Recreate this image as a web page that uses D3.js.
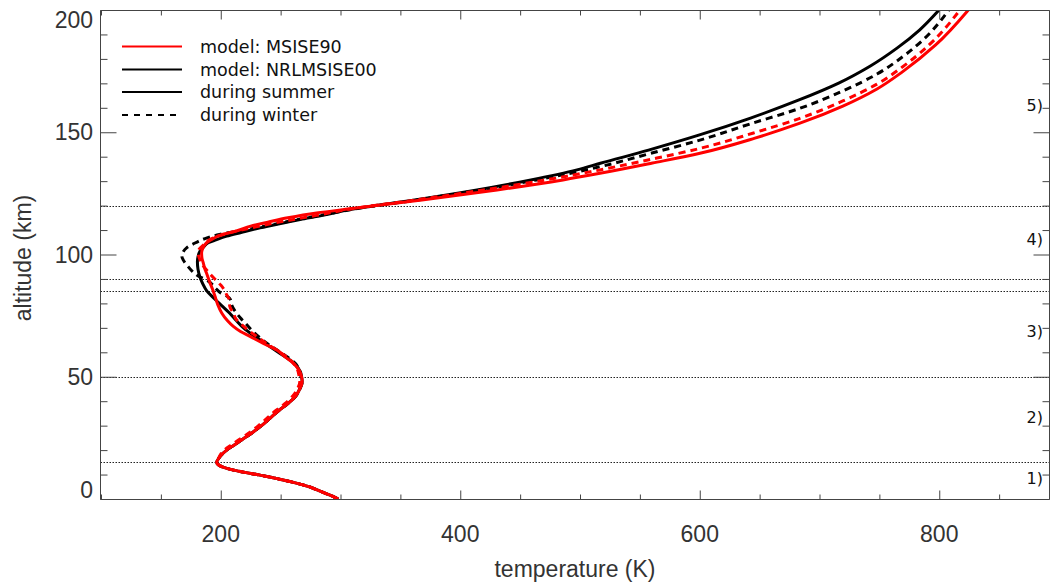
<!DOCTYPE html>
<html>
<head>
<meta charset="utf-8">
<script src="https://cdn.jsdelivr.net/npm/d3@7"></script>
<style>
  body { margin: 0; background: #fff; }
  svg { display: block; }
</style>
</head>
<body>
<div id="chart"></div>
<script>
// temperature profiles, [altitude km, temperature K]
const msise90Summer = [[0,298],[1,294],[2,289],[3,284],[4,279],[5,274],[6,267],[7,259],[8,250],[9,241],[10,230],[11,219],[12,209],[13,202],[14,198],[15,196.5],[16,197.5],[18,200.5],[20,205],[22,211],[24,217],[27,226],[30,234],[33,241],[36,248],[39,256],[42,262.5],[45,266],[48,268],[50,267.5],
  [52.2,266],[54,263.5],[55.6,260.6],[58,254],[61,246.7],[63.5,236],[66.5,224.4],[68.5,216.5],[70.6,210.5],[73,205.5],[76.1,200.8],[79.5,197.5],[82.9,195.2],[86,193],[88.4,191],[90.5,189.5],[92.5,188],[94.5,186.5],[96.6,185.4],[98.5,184.3],[100.7,184],[102.5,185],[104.8,188.2],[106.5,193.5],[108,200],[109.6,213],[111.6,225],[113.3,240],[115,256],[117,280],[118.7,308],
  [122.3,368],[126.4,430.7],[130.5,485.8],[133.2,516.7],[137.4,560.5],[141.4,600.2],[147.6,646.1],[153.7,683.7],[160.7,719.5],[167.7,748],[174.8,769.5],[185.7,797],[200,824.3]];

const msise90Winter = [[0,298],[1,294],[2,289],[3,284],[4,279],[5,274],[6,267],[7,259],[8,250],[9,241],[10,230],[11,219],[12,209],[13,202],[14,198],[15,196.5],[16,197.5],[18,199.5],[20,203],[22,208.5],[24,214.5],[27,223.5],[30,231.5],[33,238.5],[36,245.5],[39,253.5],[42,260],[45,264],[48,266],[50,265.5],
  [53,264],[57,257.8],[59.5,251],[61.8,243.9],[64,237],[66.5,230],[68.8,223.5],[71.3,217.5],[73.4,213],[76.1,210.5],[78.8,207.5],[81.6,207],[83.5,205],[85.5,203],[87.5,200],[89.5,196],[91.5,192],[93.5,188.5],[95.5,185],[97.5,183],[99.5,181.5],[101,181.2],[102.5,182.5],[104.3,186.5],[106,190.5],[107.5,198],[109,208],[110.5,222],[112,236],[114,257],[116,280],[118.6,308],
  [122.3,362.8],[126.4,419.6],[130.5,471.4],[134.6,516.7],[139.1,561],[143.4,600.2],[149.7,644.9],[155.7,683.7],[162.8,719.5],[169.7,748],[176.8,769.5],[185.7,791.5],[200,817.3]];

const nrlmsise00Summer = [[0,298],[1,294],[2,289],[3,284],[4,279],[5,274],[6,267],[7,259],[8,250],[9,241],[10,230],[11,219],[12,209],[13,202],[14,198],[15,196.5],[16,197.5],[18,200.5],[20,205],[22,211],[24,217],[27,226],[30,234],[33,241],[36,248],[39,256],[42,262.5],[45,266],[48,268],[50,267.5],
  [52,266.5],[55.6,261],[60,248],[64,236],[67,227],[70,219],[73,213],[76,207.5],[79,201],[82,194.5],[85,188.5],[88,185],[91,182.5],[94,181],[97,180.5],[99,181],[101.4,182.7],[103,185.5],[104.8,189.6],[106,196],[107.5,205],[109,217],[110.9,232.8],[112.5,248],[114.3,266.2],[116,285],[118.4,308],
  [122.3,362],[126.4,414],[130.5,459],[134.6,497.5],[137.3,517],[142.7,557.2],[148.9,599.8],[155.8,642.4],[163.2,682.9],[170.1,716],[177.1,742.5],[184.5,765],[191.8,783.5],[200,799.8]];

const nrlmsise00Winter = [[0,298],[1,294],[2,289],[3,284],[4,279],[5,274],[6,267],[7,259],[8,250],[9,241],[10,230],[11,219],[12,209],[13,202],[14,198],[15,196.5],[16,197.5],[18,200.5],[20,205],[22,211],[24,217],[27,226],[30,234],[33,241],[36,248],[39,256],[42,262.5],[45,266],[48,268],[50,267],
  [53,265.5],[55.6,262],[58.3,255],[61,246.7],[63.5,239],[65.9,232.8],[68.5,227],[71.3,221.7],[74,216.5],[76.1,213],[79.5,209],[81.6,208],[83,205],[84.3,200],[86,196],[87.7,193],[89.5,188.5],[91.1,181.5],[93,176.5],[95.2,172.5],[97.5,169],[99.3,167.5],[101,168.5],[102.7,171.5],[104.8,179],[106.8,188.5],[108.2,199],[110.2,222],[112,241],[114,261],[116,283],[118.5,310],
  [122.3,364.3],[126.4,416.9],[130.5,463.7],[135.9,516.7],[141.3,558.5],[146.8,600.2],[153.4,642],[159.8,683.7],[166.9,719.5],[173.8,748],[180.9,769.5],[188.5,788],[200,808]];

const layerBounds = [15, 50, 85, 90, 120];
const layerLabels = ["1)", "2)", "3)", "4)", "5)"];
const layerLabelAlt = [7.5, 32.5, 67.5, 105, 160];

const xMajor = [200, 400, 600, 800];
const yMajor = [0, 50, 100, 150, 200];

const legendLabels = ["model: MSISE90", "model: NRLMSISE00", "during summer", "during winter"];

const WIDTH = 1051, HEIGHT = 585;
const L = 100.5, R = 1049.5, T = 10.5, B = 499.5;

const svg = d3.select("#chart").append("svg")
  .attr("width", WIDTH)
  .attr("height", HEIGHT);

const x = d3.scaleLinear().domain([100, 900]).range([101, 1059]);
const y = d3.scaleLinear().domain([0, 200]).range([499, 10]);

svg.append("clipPath").attr("id", "plot")
  .append("rect").attr("x", L).attr("y", T).attr("width", R - L).attr("height", B - T);

// dotted layer boundaries
svg.append("g").selectAll("line")
  .data(layerBounds)
  .enter().append("line")
  .attr("x1", L).attr("x2", R)
  .attr("y1", d => Math.round(y(d)) + 0.5)
  .attr("y2", d => Math.round(y(d)) + 0.5)
  .attr("stroke", "#222")
  .attr("stroke-width", 1)
  .attr("stroke-dasharray", "1.5,1.5");

// curves
var line = d3.line()
  .x(d => x(d[1]))
  .y(d => y(d[0]))
  .curve(d3.curveMonotoneY);

var series = [
  {data: nrlmsise00Winter, color: "#000", dash: "7,5"},
  {data: nrlmsise00Summer, color: "#000", dash: null},
  {data: msise90Winter, color: "#ff0000", dash: "7,5"},
  {data: msise90Summer, color: "#ff0000", dash: null}
];

svg.append("g").attr("clip-path", "url(#plot)")
  .selectAll("path")
  .data(series)
  .enter().append("path")
  .attr("d", d => line(d.data))
  .attr("fill", "none")
  .attr("stroke", d => d.color)
  .attr("stroke-width", 3)
  .attr("stroke-dasharray", d => d.dash);

// axes (ticks only, frame drawn separately)
const xMinor = d3.range(100, 901, 50).filter(v => xMajor.indexOf(v) < 0);
const yMinor = d3.range(0, 201, 10).filter(v => yMajor.indexOf(v) < 0);

function tickAxis(axis, tx, ty) {
  const g = svg.append("g").attr("transform", "translate(" + tx + "," + ty + ")").call(axis);
  g.select(".domain").remove();
  g.selectAll(".tick line").attr("stroke", "#444");
  g.selectAll(".tick text").remove();
  return g;
}

tickAxis(d3.axisBottom(x).tickValues(xMajor).tickSize(-9), 0, B);
tickAxis(d3.axisBottom(x).tickValues(xMinor).tickSize(-5), 0, B);
tickAxis(d3.axisTop(x).tickValues(xMajor).tickSize(-9), 0, T);
tickAxis(d3.axisTop(x).tickValues(xMinor).tickSize(-5), 0, T);
tickAxis(d3.axisLeft(y).tickValues(yMajor).tickSize(-16), L, 0);
tickAxis(d3.axisLeft(y).tickValues(yMinor).tickSize(-7), L, 0);
tickAxis(d3.axisRight(y).tickValues(yMajor).tickSize(-16), R, 0);
tickAxis(d3.axisRight(y).tickValues(yMinor).tickSize(-7), R, 0);

// frame
svg.append("path")
  .attr("d", "M" + L + "," + T + "V" + B + "H" + R + "M" + L + "," + T + "H" + R + "V" + B)
  .attr("fill", "none")
  .attr("stroke", "#444")
  .attr("stroke-width", 1);

// tick labels
svg.append("g").selectAll("text")
  .data(xMajor)
  .enter().append("text")
  .attr("x", d => x(d))
  .attr("y", 542)
  .attr("text-anchor", "middle")
  .attr("font-family", "'Liberation Sans', Arial, sans-serif")
  .attr("font-size", 23)
  .attr("fill", "#333")
  .text(d => d);

svg.append("g").selectAll("text")
  .data(yMajor)
  .enter().append("text")
  .attr("x", 93)
  .attr("y", d => Math.max(20, Math.min(490, y(d))) + 8)
  .attr("text-anchor", "end")
  .attr("font-family", "'Liberation Sans', Arial, sans-serif")
  .attr("font-size", 23)
  .attr("fill", "#333")
  .text(d => d);

svg.append("text")
  .attr("x", (L + R) / 2)
  .attr("y", 577)
  .attr("text-anchor", "middle")
  .attr("font-family", "'Liberation Sans', Arial, sans-serif")
  .attr("font-size", 23)
  .attr("fill", "#333")
  .text("temperature (K)");

svg.append("text")
  .attr("transform", "translate(31," + 258 + ") rotate(-90)")
  .attr("text-anchor", "middle")
  .attr("font-family", "'Liberation Sans', Arial, sans-serif")
  .attr("font-size", 23)
  .attr("fill", "#333")
  .text("altitude (km)");

// layer labels on the right
svg.append("g").selectAll("text")
  .data(layerLabels)
  .enter().append("text")
  .attr("x", 1043)
  .attr("y", (d, i) => y(layerLabelAlt[i]) + 3)
  .attr("text-anchor", "end")
  .attr("font-family", "'DejaVu Sans', sans-serif")
  .attr("font-size", 16)
  .attr("fill", "#111")
  .text(d => d);

// legend
var legendStyle = [
  {color: "#ff0000", dash: null},
  {color: "#000", dash: null},
  {color: "#000", dash: null},
  {color: "#000", dash: "6,6"}
];
var legendRowY = [46.5, 69.5, 92, 115];

var lg = svg.append("g").selectAll("g")
  .data(legendLabels)
  .enter().append("g")
  .attr("transform", (d, i) => "translate(0," + legendRowY[i] + ")");

lg.append("line")
  .attr("x1", 122).attr("x2", 182)
  .attr("stroke", (d, i) => legendStyle[i].color)
  .attr("stroke-width", 2)
  .attr("stroke-dasharray", (d, i) => legendStyle[i].dash);

lg.append("text")
  .attr("x", 200)
  .attr("y", 6)
  .attr("font-family", "'DejaVu Sans', sans-serif")
  .attr("font-size", 17.5)
  .attr("fill", "#111")
  .text(d => d);
</script>
</body>
</html>
